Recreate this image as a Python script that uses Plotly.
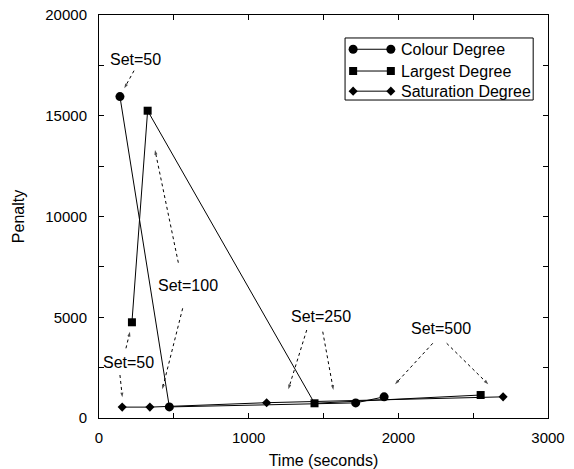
import plotly.graph_objects as go

# ---- data ----
colour_x = [140, 470, 1715, 1905]
colour_y = [15950, 550, 750, 1050]
largest_x = [220, 325, 1440, 2550]
largest_y = [4750, 15250, 730, 1140]
sat_x = [155, 340, 1120, 2700]
sat_y = [540, 540, 760, 1050]

series_names = ["Colour Degree", "Largest Degree", "Saturation Degree"]

x_tickvals = [0, 500, 1000, 1500, 2000, 2500, 3000]
x_ticktext = ["0", "", "1000", "", "2000", "", "3000"]
y_tickvals = [0, 2500, 5000, 7500, 10000, 12500, 15000, 17500, 20000]
y_ticktext = ["0", "", "5000", "", "10000", "", "15000", "", "20000"]

# annotation labels: text, x, y
label_text = ["Set=50", "Set=100", "Set=50", "Set=250", "Set=500"]
label_x = [243, 593, 194, 1482, 2287]
label_y = [17767, 6561, 2754, 5047, 4452]

# dotted arrows: (start_x, start_y, end_x, end_y)
arrow_x0 = [234, 530, 559, 180, 140, 1388, 1495, 2230, 2323]
arrow_y0 = [17236, 7708, 5444, 3459, 2134, 4367, 4283, 3707, 3707]
arrow_x1 = [169, 374, 423, 207, 156, 1265, 1566, 1978, 2601]
arrow_y1 = [16363, 13301, 1424, 4283, 1027, 1424, 1390, 1673, 1673]

FONT = "Liberation Sans, Arial, Helvetica, sans-serif"

fig = go.Figure()

series = [
    (colour_x, colour_y, "circle", 9),
    (largest_x, largest_y, "square", 8),
    (sat_x, sat_y, "diamond", 7),
]
for (xs, ys, sym, sz), name in zip(series, series_names):
    fig.add_trace(go.Scatter(
        x=xs, y=ys, mode="lines+markers", name=name,
        line=dict(color="black", width=1),
        marker=dict(symbol=sym, size=sz, color="black"),
        showlegend=False,
    ))

# dotted arrows
for x0, y0, x1, y1 in zip(arrow_x0, arrow_y0, arrow_x1, arrow_y1):
    fig.add_trace(go.Scatter(
        x=[x0, x1], y=[y0, y1], mode="lines+markers",
        line=dict(color="black", width=1, dash="dot"),
        marker=dict(symbol=["circle", "arrow"], size=[0, 5], color="black",
                    angleref="previous", line=dict(width=0)),
        showlegend=False, hoverinfo="skip",
    ))

for t, x, y in zip(label_text, label_x, label_y):
    fig.add_annotation(x=x, y=y, text=t, showarrow=False,
                       font=dict(family=FONT, size=16, color="black"),
                       xanchor="center", yanchor="middle")

# ---- custom legend (overlay axis spanning the plot area) ----
leg_rows_y = [0.915, 0.861, 0.811]
leg_x0, leg_x1, leg_text_x = 0.566, 0.650, 0.668
fig.add_shape(type="rect", xref="x2", yref="y2", x0=0.548, x1=0.967,
              y0=0.789, y1=0.943, line=dict(color="black", width=1),
              fillcolor="white", layer="below")
for (xs, ys, sym, sz), name, ry in zip(series, series_names, leg_rows_y):
    fig.add_trace(go.Scatter(
        x=[leg_x0, leg_x1], y=[ry, ry], xaxis="x2", yaxis="y2",
        mode="lines+markers", line=dict(color="black", width=1),
        marker=dict(symbol=sym, size=sz, color="black"),
        showlegend=False, hoverinfo="skip",
    ))
    fig.add_annotation(x=leg_text_x, y=ry, xref="x2", yref="y2", text=name,
                       showarrow=False, xanchor="left", yanchor="middle",
                       font=dict(family=FONT, size=16, color="black"))

axis_common = dict(
    showline=True, linecolor="black", linewidth=1, mirror="ticks",
    ticks="inside", ticklen=5, tickcolor="black", tickwidth=1,
    showgrid=False, zeroline=False, tickmode="array", automargin=False,
    tickfont=dict(family=FONT, size=15, color="black"),
)

fig.update_layout(
    width=574, height=469,
    margin=dict(l=99, r=26, t=15, b=51),
    paper_bgcolor="white", plot_bgcolor="white",
    font=dict(family=FONT, size=16, color="black"),
    xaxis=dict(range=[0, 3000], tickvals=x_tickvals, ticktext=x_ticktext,
               title=dict(text="Time (seconds)", font=dict(family=FONT, size=16), standoff=10),
               ticklabelstandoff=6,
               **axis_common),
    yaxis=dict(range=[0, 20000], tickvals=y_tickvals, ticktext=y_ticktext,
               title=dict(text="Penalty", font=dict(family=FONT, size=16), standoff=16),
               ticklabelstandoff=8,
               **axis_common),
    xaxis2=dict(range=[0, 1], overlaying="x", visible=False, fixedrange=True),
    yaxis2=dict(range=[0, 1], overlaying="y", visible=False, fixedrange=True),
    showlegend=False,
)

fig.write_html("out.html")
